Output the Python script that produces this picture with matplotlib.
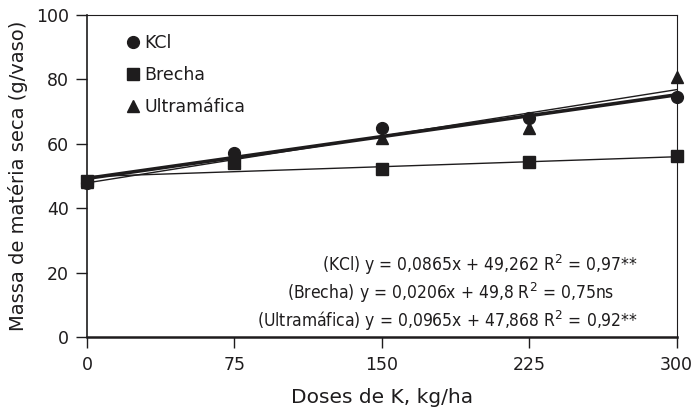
import numpy as np
import matplotlib.pyplot as plt

# doses of K (kg/ha)
doses = [0, 75, 150, 225, 300]

# dry matter (g/vaso)
kcl = [47.8, 57.1, 65.0, 68.0, 74.4]
brecha = [48.3, 54.0, 52.3, 54.4, 56.2]
ultra = [48.0, 55.0, 61.7, 65.0, 80.8]

# fitted regressions (slope, intercept)
fit_kcl = (0.0865, 49.262)
fit_brecha = (0.0206, 49.8)
fit_ultra = (0.0965, 47.868)

eq_lines = [r'(KCl) y = 0,0865x + 49,262 R$^2$ = 0,97**',
            r'(Brecha) y = 0,0206x + 49,8 R$^2$ = 0,75ns',
            r'(Ultramáfica) y = 0,0965x + 47,868 R$^2$ = 0,92**']
eq_right = [0.935, 0.894, 0.935]

plt.rcParams['font.family'] = ['DejaVu Sans']

col = '#1e1c1d'

fig = plt.figure(figsize=(6.92, 4.11), dpi=100)
ax = fig.add_axes([0.1257, 0.18, 0.852, 0.7835])

xx = np.array([0, 300])
ax.plot(xx, fit_brecha[0]*xx + fit_brecha[1], color=col, lw=1.0)
ax.plot(xx, fit_ultra[0]*xx + fit_ultra[1], color=col, lw=1.0)
ax.plot(xx, fit_kcl[0]*xx + fit_kcl[1], color=col, lw=2.6)

ax.plot(doses, brecha, 's', color=col, ms=8, label='Brecha', clip_on=False, zorder=3)
ax.plot(doses, ultra, '^', color=col, ms=8.5, label='Ultramáfica', clip_on=False, zorder=3)
ax.plot(doses, kcl, 'o', color=col, ms=8.5, label='KCl', clip_on=False, zorder=4)

h, l = ax.get_legend_handles_labels()
order = [2, 0, 1]
leg = ax.legend([h[i] for i in order], [l[i] for i in order], loc='upper left',
                bbox_to_anchor=(0.043, 0.99), frameon=False, handlelength=0.6,
                handletextpad=0.35, labelspacing=0.8, fontsize=12.5)
for t in leg.get_texts():
    t.set_color(col)

for i, s in enumerate(eq_lines):
    ax.text(eq_right[i], 0.225 - i*0.087, s, transform=ax.transAxes, ha='right', va='center',
            fontsize=12.5, family='DejaVu Sans', stretch='condensed', color=col)

ax.set_xlim(0, 300)
ax.set_ylim(0, 100)
ax.set_xticks(doses)
ax.set_yticks([0, 20, 40, 60, 80, 100])
ax.tick_params(direction='out', length=8, width=1, colors=col, labelsize=12.5)
ax.tick_params(axis='x', pad=6)
ax.tick_params(axis='y', pad=5)
for k in ['top', 'right']:
    ax.spines[k].set_linewidth(0.8)
ax.spines['left'].set_linewidth(1.2)
ax.spines['bottom'].set_linewidth(1.8)
for sp in ax.spines.values():
    sp.set_color(col)

ax.set_xlabel('Doses de K, kg/ha', fontsize=14.5, color=col, labelpad=10)
ax.set_ylabel('Massa de matéria seca (g/vaso)', fontsize=14, color=col, labelpad=6)

fig.savefig('out.png', dpi=100)
